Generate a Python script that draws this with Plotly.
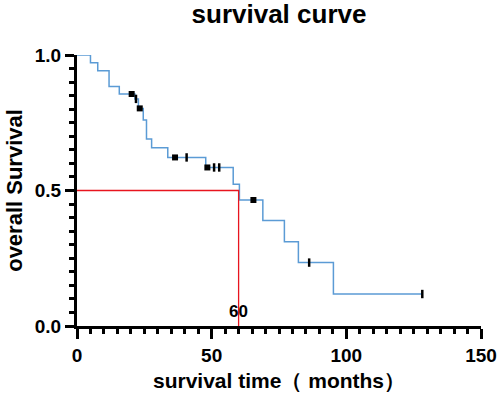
import plotly.graph_objects as go

# Kaplan-Meier step data (time in months, survival probability)
step_times = [0, 5, 7.7, 11.9, 15.7, 21.5, 22.8, 24.6, 25.8, 27.7, 33.7, 47.8, 58.0, 60.3, 69, 77, 82.2, 95.2, 128.2]
step_surv = [1.0, 0.971, 0.942, 0.884, 0.856, 0.838, 0.803, 0.76, 0.69, 0.658, 0.622, 0.585, 0.523, 0.465, 0.389, 0.311, 0.234, 0.118, 0.118]

# censored observations
censor_square_times = [20.3, 23.3, 36.4, 48.4, 65.5]
censor_tick_times = [21.9, 40.7, 50.9, 52.8, 86.2, 128.2]

# median survival guide
median_time = 60
median_surv = 0.5

x_ticks = [0, 50, 100, 150]
y_ticks = [0.0, 0.5, 1.0]
y_tick_labels = ["0.0", "0.5", "1.0"]


def surv_at(t):
    s = step_surv[0]
    for tt, ss in zip(step_times, step_surv):
        if tt <= t:
            s = ss
    return s


FONT = "Liberation Sans"
BLUE = "#5b9bd5"

fig = go.Figure()

fig.add_trace(go.Scatter(
    x=step_times, y=step_surv, mode="lines", line_shape="hv",
    line=dict(color=BLUE, width=1.5), hoverinfo="skip"))

fig.add_trace(go.Scatter(
    x=[0, median_time, median_time], y=[median_surv, median_surv, 0],
    mode="lines", line=dict(color="#e8141e", width=1.3), hoverinfo="skip"))

fig.add_trace(go.Scatter(
    x=censor_square_times, y=[surv_at(t) for t in censor_square_times],
    mode="markers", marker=dict(symbol="square", size=6, color="black"),
    hoverinfo="skip"))

fig.add_trace(go.Scatter(
    x=censor_tick_times, y=[surv_at(t) for t in censor_tick_times],
    mode="markers",
    marker=dict(symbol="line-ns", size=6, color="black",
                line=dict(color="black", width=2.5)),
    hoverinfo="skip"))

fig.add_annotation(x=median_time, y=0.052, text="<b>60</b>", showarrow=False,
                   font=dict(family=FONT, size=17, color="black"))

fig.update_layout(
    width=500, height=398,
    margin=dict(l=77, r=19, t=55, b=72),
    paper_bgcolor="white", plot_bgcolor="white",
    showlegend=False,
    title=dict(text="<b>survival curve</b>", x=0.558, xanchor="center",
               y=0.988, yanchor="top",
               font=dict(family=FONT, size=26, color="black")),
    font=dict(family=FONT, color="black"),
)

fig.update_xaxes(
    range=[0, 150], tickvals=x_ticks, ticktext=[f"<b>{v}</b>" for v in x_ticks],
    showgrid=False, zeroline=False, automargin=False,
    showline=True, linecolor="black", linewidth=3,
    ticks="outside", ticklen=10, tickwidth=3, tickcolor="black",
    tickfont=dict(family=FONT, size=19, color="black"),
    minor=dict(dtick=5, ticks="outside", ticklen=5, tickwidth=3, tickcolor="black", showgrid=False),
    title=dict(text="<b>survival time（ months）</b>", standoff=9,
               font=dict(family=FONT, size=21, color="black")),
)

fig.update_yaxes(
    range=[0, 1.0], tickvals=y_ticks, ticktext=[f"<b>{t}</b>" for t in y_tick_labels],
    showgrid=False, zeroline=False, automargin=False,
    showline=True, linecolor="black", linewidth=3,
    ticks="outside", ticklen=9, tickwidth=3, tickcolor="black",
    tickfont=dict(family=FONT, size=19, color="black"),
    minor=dict(dtick=0.05, ticks="outside", ticklen=5, tickwidth=3, tickcolor="black", showgrid=False),
    title=dict(text="<b>overall Survival</b>", standoff=7,
               font=dict(family=FONT, size=22, color="black")),
)

fig.write_html(
    "out.html",
    config={"displayModeBar": False},
    post_script="document.body.style.margin='0';document.body.style.overflow='hidden';",
)
